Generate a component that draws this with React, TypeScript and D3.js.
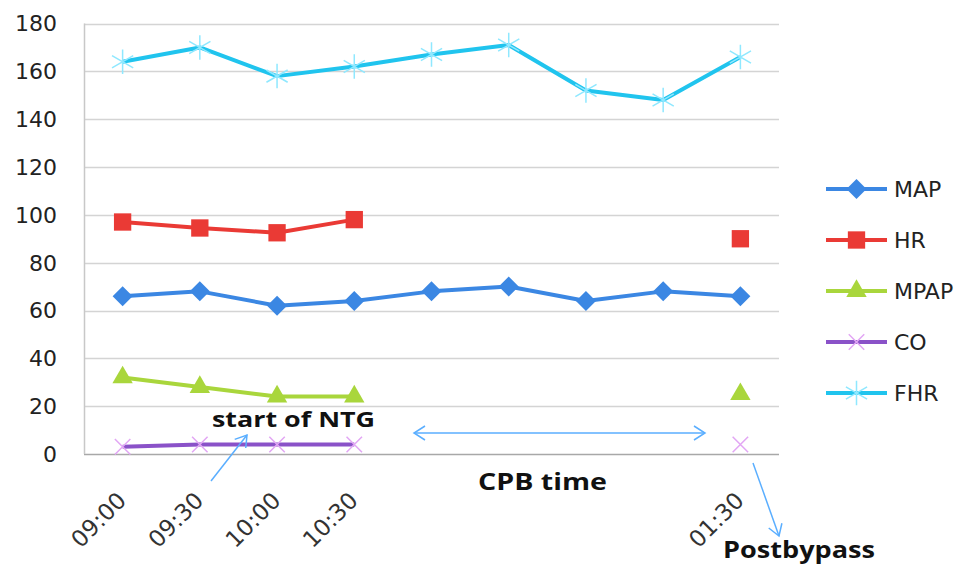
import React, { useEffect, useRef } from "react";
import * as d3 from "d3";

const categories = ["09:00", "09:30", "10:00", "10:30", "", "", "", "", "01:30"];
const mapValues = [66, 68, 62, 64, 68, 70, 64, 68, 66];
const hrValues = [97, 94.5, 92.5, 98, null, null, null, null, 90];
const mpapValues = [32, 28, 24, 24, null, null, null, null, 25];
const coValues = [3, 4, 4, 4, null, null, null, null, 4];
const fhrValues = [164, 170, 158, 162, 167, 171, 152, 148, 166];
const yTicks = [0, 20, 40, 60, 80, 100, 120, 140, 160, 180];

const W = 967;
const H = 565;

// custom stroke symbols (excel style star / x)
const asterisk = {
  draw(ctx: any, size: number) {
    const r = Math.sqrt(size) / 2;
    for (let i = 0; i < 3; i++) {
      const a = (Math.PI / 3) * i + Math.PI / 2;
      ctx.moveTo(Math.cos(a) * r, Math.sin(a) * r);
      ctx.lineTo(-Math.cos(a) * r, -Math.sin(a) * r);
    }
  },
};
const cross = {
  draw(ctx: any, size: number) {
    const r = Math.sqrt(size) / 2 / Math.SQRT2;
    ctx.moveTo(-r, -r);
    ctx.lineTo(r, r);
    ctx.moveTo(r, -r);
    ctx.lineTo(-r, r);
  },
};

export default function App() {
  const ref = useRef<SVGSVGElement>(null);

  useEffect(() => {
    const svg = d3.select(ref.current);
    svg.selectAll("*").remove();

    const left = 84, right = 779, top = 23.5, bottom = 454;
    const idx = categories.map((_, i) => String(i));
    const x = d3.scalePoint<string>().domain(idx).range([left, right]).padding(0.5);
    const y = d3.scaleLinear().domain([0, 180]).range([bottom, top]);

    const defs = svg.append("defs");
    defs
      .append("marker")
      .attr("id", "arrowOpen")
      .attr("viewBox", "-12 -8 14 16")
      .attr("refX", 0)
      .attr("refY", 0)
      .attr("markerWidth", 14)
      .attr("markerHeight", 16)
      .attr("markerUnits", "userSpaceOnUse")
      .attr("orient", "auto-start-reverse")
      .append("path")
      .attr("d", "M-11,-7L0,0L-11,7")
      .attr("fill", "none")
      .attr("stroke", "#5aaeff")
      .attr("stroke-width", 1.5);

    // gridlines
    svg
      .append("g")
      .selectAll("line")
      .data(yTicks)
      .join("line")
      .attr("x1", left)
      .attr("x2", right)
      .attr("y1", (d) => Math.round(y(d)) + 0.5)
      .attr("y2", (d) => Math.round(y(d)) + 0.5)
      .attr("stroke", (d) => (d === 0 ? "#a8a8a8" : "#d4d4d4"))
      .attr("stroke-width", 1.5);

    svg
      .append("line")
      .attr("x1", left + 0.5)
      .attr("x2", left + 0.5)
      .attr("y1", top)
      .attr("y2", bottom)
      .attr("stroke", "#c8c8c8")
      .attr("stroke-width", 1.5);

    // y tick labels
    svg
      .append("g")
      .selectAll("text")
      .data(yTicks)
      .join("text")
      .attr("x", 57)
      .attr("y", (d) => y(d))
      .attr("dy", "0.36em")
      .attr("text-anchor", "end")
      .attr("font-family", "DejaVu Sans")
      .attr("font-size", 22)
      .attr("fill", "#222")
      .text((d) => d);

    // x tick labels, rotated
    svg
      .append("g")
      .selectAll("text")
      .data(categories)
      .join("text")
      .attr("transform", (_, i) => `translate(${(x(String(i)) as number) + 5},502) rotate(-45)`)
      .attr("text-anchor", "end")
      .attr("font-family", "DejaVu Sans")
      .attr("font-size", 23)
      .attr("fill", "#333")
      .text((d) => d);

    const series = [
      { name: "MAP", values: mapValues, color: "#3b87e3", type: d3.symbolSquare, size: 200, rotate: 45, fill: "#3b87e3", stroke: null },
      { name: "HR", values: hrValues, color: "#ea3a35", type: d3.symbolSquare, size: 300, rotate: 0, fill: "#ea3a35", stroke: null },
      { name: "MPAP", values: mpapValues, color: "#a9d63c", type: d3.symbolTriangle, size: 180, rotate: 0, fill: "#a9d63c", stroke: null },
      { name: "CO", values: coValues, color: "#8a52c8", type: cross, size: 480, rotate: 0, fill: "none", stroke: "#e2a6f4" },
      { name: "FHR", values: fhrValues, color: "#20c4ee", type: asterisk, size: 600, rotate: 0, fill: "none", stroke: "#8fe8ff" },
    ];

    const line = d3
      .line<number | null>()
      .defined((d) => d != null)
      .x((_, i) => x(String(i)) as number)
      .y((d) => y(d as number));

    // draw back to front like excel
    series
      .slice()
      .reverse()
      .forEach((s) => {
        const g = svg.append("g");
        g.append("path")
          .datum(s.values)
          .attr("d", line)
          .attr("fill", "none")
          .attr("stroke", s.color)
          .attr("stroke-width", 4)
          .attr("stroke-linejoin", "round");
        g.selectAll("path.pt")
          .data(s.values.map((v, i) => ({ v, i })).filter((d) => d.v != null))
          .join("path")
          .attr("class", "pt")
          .attr("transform", (d) => `translate(${x(String(d.i))},${y(d.v as number)}) rotate(${s.rotate})`)
          .attr("d", d3.symbol(s.type as any, s.size)())
          .attr("fill", s.fill)
          .attr("stroke", s.stroke ?? "none")
          .attr("stroke-width", 1.5);
      });

    // legend
    const lg = svg.append("g");
    series.forEach((s, i) => {
      const ly = 189 + i * 51;
      lg.append("line")
        .attr("x1", 826)
        .attr("x2", 887)
        .attr("y1", ly)
        .attr("y2", ly)
        .attr("stroke", s.color)
        .attr("stroke-width", 4);
      lg.append("path")
        .attr("transform", `translate(856.5,${ly}) rotate(${s.rotate})`)
        .attr("d", d3.symbol(s.type as any, s.size)())
        .attr("fill", s.fill)
        .attr("stroke", s.stroke ?? "none")
        .attr("stroke-width", 1.5);
      lg.append("text")
        .attr("x", 894)
        .attr("y", ly)
        .attr("dy", "0.36em")
        .attr("font-family", "DejaVu Sans")
        .attr("font-size", 22)
        .attr("fill", "#222")
        .text(s.name);
    });

    // annotations
    const ann = svg.append("g").attr("stroke", "#5aaeff").attr("stroke-width", 1.5).attr("fill", "none");
    ann.append("line")
      .attr("x1", 414).attr("y1", 433).attr("x2", 705).attr("y2", 433)
      .attr("marker-start", "url(#arrowOpen)")
      .attr("marker-end", "url(#arrowOpen)");
    ann.append("line")
      .attr("x1", 211).attr("y1", 481).attr("x2", 247).attr("y2", 435)
      .attr("marker-end", "url(#arrowOpen)");
    ann.append("line")
      .attr("x1", 753).attr("y1", 463).attr("x2", 779).attr("y2", 536)
      .attr("marker-end", "url(#arrowOpen)");

    const labels = [
      { t: "start of NTG", x: 212, y: 427, size: 21, len: 163 },
      { t: "CPB time", x: 478, y: 490, size: 23, len: 129 },
      { t: "Postbypass", x: 723, y: 558, size: 23, len: 152 },
    ];
    svg
      .append("g")
      .selectAll("text")
      .data(labels)
      .join("text")
      .attr("x", (d) => d.x)
      .attr("y", (d) => d.y)
      .attr("font-family", "Open Sans")
      .attr("font-weight", "bold")
      .attr("font-size", (d) => d.size)
      .attr("textLength", (d) => d.len)
      .attr("lengthAdjust", "spacingAndGlyphs")
      .attr("fill", "#111")
      .text((d) => d.t);
  }, []);

  return (
    <svg
      ref={ref}
      width={W}
      height={H}
      style={{ position: "absolute", left: 0, top: 0, background: "#fff" }}
    />
  );
}
